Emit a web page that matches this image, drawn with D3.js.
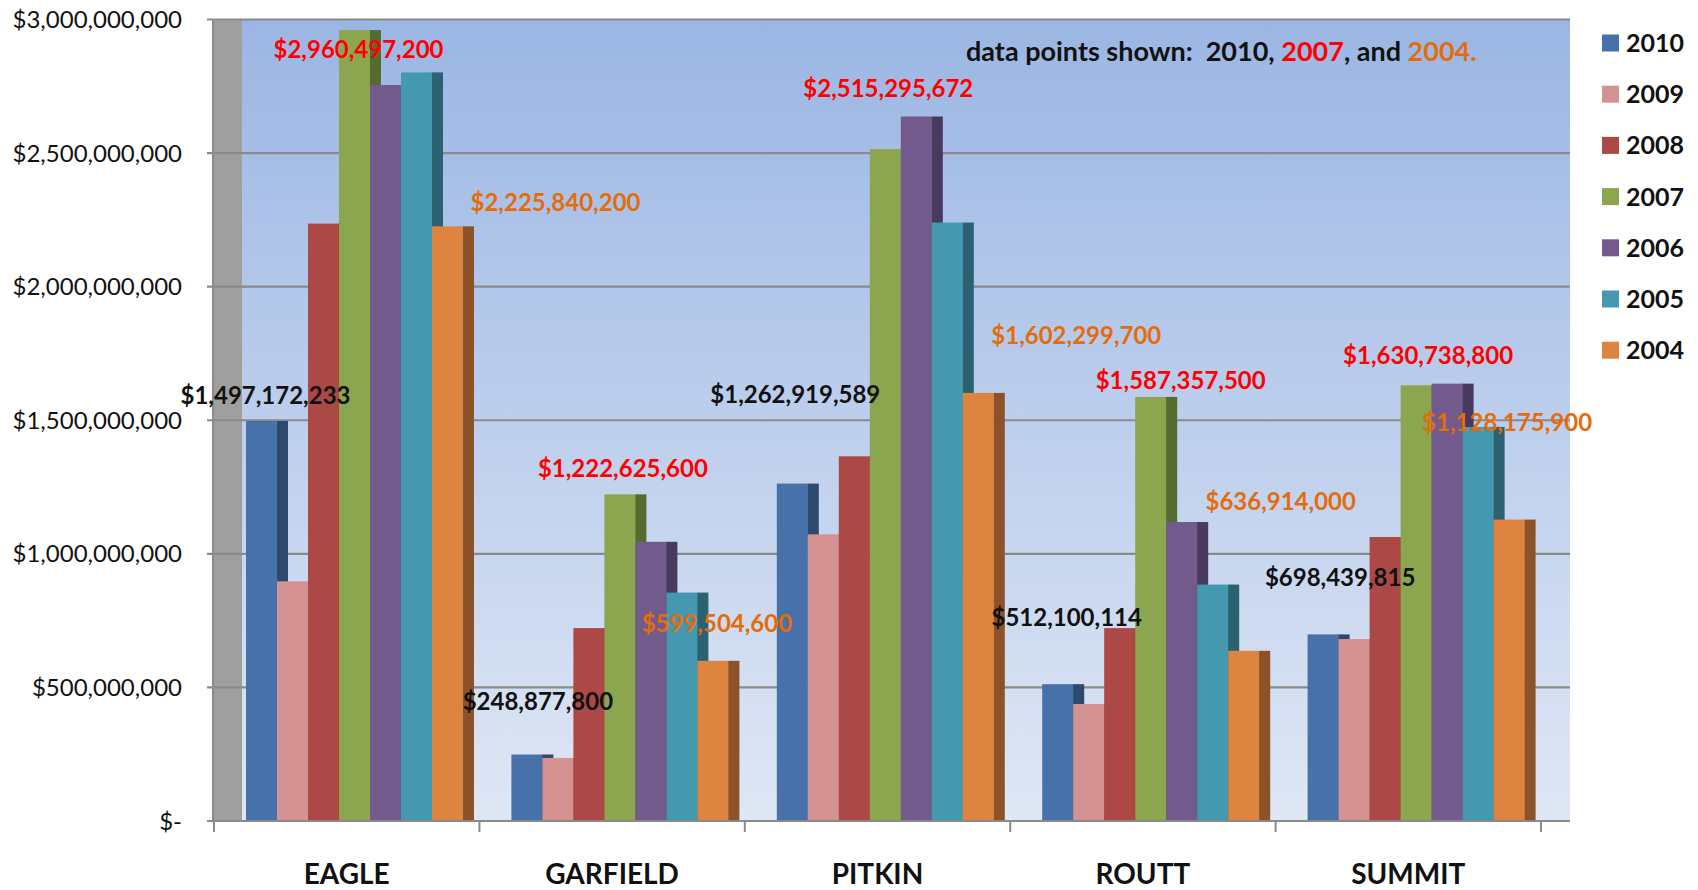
<!DOCTYPE html>
<html>
<head>
<meta charset="utf-8">
<script src="https://cdn.jsdelivr.net/npm/d3@7"></script>
<style>
  body { margin: 0; background: #fff; }
  svg text { font-family: Lato, "Open Sans", sans-serif; }
</style>
</head>
<body>
<svg id="chart" width="1698" height="890"></svg>
<script>
// categories and series
const counties = ["EAGLE", "GARFIELD", "PITKIN", "ROUTT", "SUMMIT"];
const years = ["2010", "2009", "2008", "2007", "2006", "2005", "2004"];
const yTicks = [0, 500e6, 1000e6, 1500e6, 2000e6, 2500e6, 3000e6];

// values per year, in county order
const v2010 = [1497172233, 248877800, 1262919589, 512100114, 698439815];
const v2009 = [897e6, 236e6, 1073e6, 438e6, 681e6];
const v2008 = [2236e6, 722e6, 1365e6, 722e6, 1063e6];
const v2007 = [2960497200, 1222625600, 2515295672, 1587357500, 1630738800];
const v2006 = [2755e6, 1045e6, 2637e6, 1119e6, 1637e6];
const v2005 = [2802e6, 855e6, 2240e6, 885e6, 1475e6];
const v2004 = [2225840200, 599504600, 1602299700, 636914000, 1128175900];

const colors = ["#4772a9", "#d49392", "#ac4846", "#8ca650", "#725a8d", "#4499b0", "#de8441"];
const sideColors = ["#2d4a6e", "#9c6968", "#7a3231", "#566b30", "#483a5e", "#2b6170", "#8c532a"];

// label nudges (px) from the top centre of the labelled bar
const labelNudge2010 = [[4, -26], [11, -53], [3, -89], [9, -67], [17, -57]];
const labelNudge2007 = [[4, 19], [3, -26], [3, -61], [30, -17], [12, -30]];
const labelNudge2004 = [[108, -24], [4, -37], [98, -58], [37, -149], [-2, -97]];

const series = [v2010, v2009, v2008, v2007, v2006, v2005, v2004];

const svg = d3.select("#chart");
const plotTop = 19.5, plotBottom = 821, axisX = 213, wallW = 29, plotRight = 1570;
const sideW = 11;

const x = d3.scaleBand().domain(counties).range([214, 1541]);
const xs = d3.scaleBand().domain(years).range([32, 32 + 7 * 31]);
const y = d3.scaleLinear().domain([0, 3e9]).range([plotBottom, plotTop]);

// background gradient
const defs = svg.append("defs");
const grad = defs.append("linearGradient").attr("id", "bg").attr("x1", 0).attr("y1", 0).attr("x2", 0).attr("y2", 1);
grad.append("stop").attr("offset", "0%").attr("stop-color", "#9bb6e4");
grad.append("stop").attr("offset", "100%").attr("stop-color", "#dfe7f5");

svg.append("rect")
  .attr("x", axisX + wallW).attr("y", plotTop)
  .attr("width", plotRight - axisX - wallW).attr("height", plotBottom - plotTop)
  .attr("fill", "url(#bg)");

// grey side wall
svg.append("rect")
  .attr("x", axisX).attr("y", plotTop)
  .attr("width", wallW).attr("height", plotBottom - plotTop)
  .attr("fill", "#9f9f9f");

// gridlines + tick labels
const fmt = d => d === 0 ? "$-" : "$" + d3.format(",")(d);
svg.append("g").selectAll("line").data(yTicks).join("line")
  .attr("x1", axisX - 6).attr("x2", plotRight)
  .attr("y1", d => y(d)).attr("y2", d => y(d))
  .attr("stroke", "#8a8a8a").attr("stroke-width", 2.2);

svg.append("g").selectAll("text").data(yTicks).join("text")
  .attr("x", 182).attr("y", d => y(d))
  .attr("dy", "0.36em")
  .attr("text-anchor", "end")
  .attr("font-size", 24)
  .attr("fill", "#111")
  .text(fmt);

// vertical axis line
svg.append("line")
  .attr("x1", axisX).attr("x2", axisX)
  .attr("y1", plotTop).attr("y2", plotBottom)
  .attr("stroke", "#8a8a8a").attr("stroke-width", 2);

// bars (drawn per year in order so each front hides the previous side)
const barsG = svg.append("g");
counties.forEach((c, ci) => {
  years.forEach((yr, si) => {
    const val = series[si][ci];
    const bx = x(c) + xs(yr);
    const bw = xs.bandwidth();
    barsG.append("rect")
      .attr("x", bx + bw - 0.5).attr("y", y(val))
      .attr("width", sideW + 0.5).attr("height", plotBottom - y(val))
      .attr("fill", sideColors[si]);
    barsG.append("rect")
      .attr("x", bx).attr("y", y(val))
      .attr("width", bw).attr("height", plotBottom - y(val))
      .attr("fill", colors[si]);
  });
});

// baseline and category ticks
svg.append("line")
  .attr("x1", axisX - 6).attr("x2", 1541)
  .attr("y1", plotBottom).attr("y2", plotBottom)
  .attr("stroke", "#8a8a8a").attr("stroke-width", 2.2);
svg.append("g").selectAll("line")
  .data(counties.map(c => x(c)).concat([x.range()[1]]))
  .join("line")
  .attr("x1", d => d).attr("x2", d => d)
  .attr("y1", plotBottom).attr("y2", plotBottom + 11)
  .attr("stroke", "#8a8a8a").attr("stroke-width", 2);

svg.append("g").selectAll("text").data(counties).join("text")
  .attr("x", d => x(d) + x.bandwidth() / 2)
  .attr("y", 884)
  .attr("text-anchor", "middle")
  .attr("font-size", 28)
  .attr("font-weight", "bold")
  .attr("fill", "#111")
  .text(d => d);

// data labels
function addLabels(vals, si, nudges, color) {
  svg.append("g").selectAll("text").data(counties).join("text")
    .attr("x", (c, i) => x(c) + xs(years[si]) + xs.bandwidth() / 2 + nudges[i][0])
    .attr("y", (c, i) => y(vals[i]) + nudges[i][1])
    .attr("dy", "0.36em")
    .attr("text-anchor", "middle")
    .attr("font-size", 24)
    .attr("font-weight", "bold")
    .attr("fill", color)
    .text((c, i) => "$" + d3.format(",")(vals[i]));
}
addLabels(v2010, 0, labelNudge2010, "#111");
addLabels(v2007, 3, labelNudge2007, "#ff0000");
addLabels(v2004, 6, labelNudge2004, "#e46c0a");

// annotation
const note = svg.append("text")
  .attr("x", 966).attr("y", 51).attr("dy", "0.36em")
  .attr("font-size", 27).attr("font-weight", "bold").attr("fill", "#111")
  .attr("xml:space", "preserve");
note.append("tspan").text("data points shown:  2010, ");
note.append("tspan").attr("fill", "#ff0000").text("2007");
note.append("tspan").text(", and ");
note.append("tspan").attr("fill", "#e46c0a").text("2004.");

// legend
const legend = svg.append("g").selectAll("g").data(years).join("g")
  .attr("transform", (d, i) => `translate(1602,${43 + i * 51.2})`);
legend.append("rect")
  .attr("x", 0).attr("y", -8.5).attr("width", 17).attr("height", 17)
  .attr("fill", (d, i) => colors[i]);
legend.append("text")
  .attr("x", 24).attr("y", 0).attr("dy", "0.36em")
  .attr("font-size", 25).attr("font-weight", "bold").attr("fill", "#111")
  .text(d => d);
</script>
</body>
</html>
